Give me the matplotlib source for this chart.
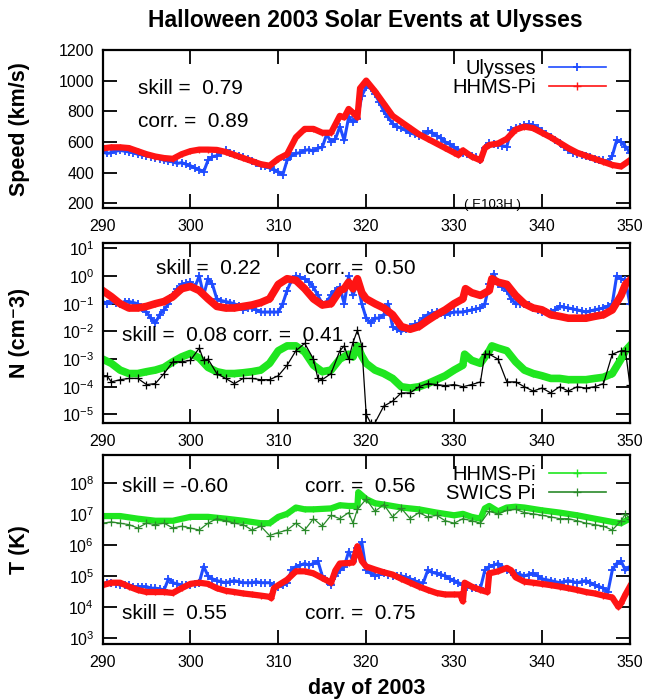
import numpy as np
import matplotlib
matplotlib.use("Agg")
import matplotlib.pyplot as plt

plt.rcParams['font.family'] = ['Liberation Sans', 'DejaVu Sans']

# --- Speed (km/s) ---
v_uly_day = [290, 290.5, 291, 291.5, 292, 292.5, 293, 293.5, 294, 294.5, 295, 295.5, 296, 296.5, 297,
             297.5, 298, 298.5, 299, 299.5, 300, 300.5, 301, 301.5, 302, 302.5, 303, 303.5, 304, 304.5,
             305, 305.5, 306, 306.5, 307, 307.5, 308, 308.5, 309, 309.5, 310, 310.5, 311, 311.5, 312,
             312.5, 313, 313.5, 314, 314.5, 315, 315.5, 316, 316.5, 317, 317.5, 318, 318.5, 319, 319.5,
             320, 320.5, 321, 321.5, 322, 322.5, 323, 323.5, 324, 324.5, 325, 325.5, 326, 326.5, 327,
             327.5, 328, 328.5, 329, 329.5, 330, 330.5, 331, 331.5, 332, 332.5, 333, 333.5, 334, 334.5,
             335, 335.5, 336, 336.5, 337, 337.5, 338, 338.5, 339, 339.5, 340, 340.5, 341, 341.5, 342,
             342.5, 343, 343.5, 344, 344.5, 345, 345.5, 346, 346.5, 347, 347.5, 348, 348.5, 349, 349.5,
             350]
v_uly = [535, 525, 530, 540, 545, 540, 535, 530, 520, 515, 510, 505, 495, 490, 480,
         475, 470, 460, 465, 455, 445, 430, 420, 405, 480, 505, 510, 530, 545, 530,
         520, 510, 500, 490, 475, 460, 445, 440, 430, 420, 405, 385, 480, 510, 525,
         530, 545, 550, 540, 560, 565, 650, 600, 620, 700, 610, 760, 730, 750, 900,
         960, 950, 910, 860, 800, 760, 720, 700, 690, 675, 660, 650, 640, 650, 670,
         660, 640, 625, 600, 585, 565, 550, 530, 520, 510, 500, 480, 560, 590, 585,
         580, 575, 570, 680, 690, 700, 710, 715, 710, 690, 670, 650, 630, 610, 590,
         570, 545, 530, 520, 515, 510, 500, 490, 485, 480, 470, 510, 610, 600, 570,
         530]
v_hhms_day = [290, 291, 292, 293, 294, 295, 296, 297, 298, 299, 300, 301, 302, 303, 304, 305, 306, 307,
              308, 309, 310, 311, 312, 313, 314, 315, 316, 317, 317.5, 318, 318.5, 319, 319.3, 320, 321,
              322, 323, 324, 325, 326, 327, 328, 329, 330, 330.5, 331, 332, 333, 333.5, 334, 335, 336,
              337, 338, 339, 340, 341, 342, 343, 344, 345, 346, 347, 348, 349, 350]
v_hhms = [558, 565, 565, 560, 540, 520, 505, 495, 490, 520, 540, 550, 550, 548, 535, 515, 495, 475,
          455, 445, 490, 520, 630, 685, 685, 660, 660, 770, 760, 815, 790, 760, 950, 1000, 930,
          850, 770, 730, 690, 650, 620, 590, 560, 530, 515, 545, 505, 480, 560, 580, 590, 620,
          680, 700, 690, 660, 630, 595, 560, 530, 510, 490, 470, 450, 440, 480]

# --- Density (cm^-3) ---
n_uly_day = [290, 290.5, 291, 291.5, 292, 292.5, 293, 293.5, 294, 294.5, 295, 295.5, 296, 296.5, 297,
             297.5, 298, 298.5, 299, 299.5, 300, 300.5, 301, 301.5, 302, 302.5, 303, 303.5, 304, 304.5,
             305, 305.5, 306, 306.5, 307, 307.5, 308, 308.5, 309, 309.5, 310, 310.5, 311, 311.5, 312,
             312.5, 313, 313.5, 314, 314.5, 315, 315.5, 316, 316.5, 317, 317.5, 318, 318.5, 319, 319.5,
             320, 320.5, 321, 321.5, 322, 322.5, 323, 323.5, 324, 324.5, 325, 325.5, 326, 326.5, 327,
             327.5, 328, 328.5, 329, 329.5, 330, 330.5, 331, 331.5, 332, 332.5, 333, 333.5, 334, 334.5,
             335, 335.5, 336, 336.5, 337, 337.5, 338, 338.5, 339, 339.5, 340, 340.5, 341, 341.5, 342,
             342.5, 343, 343.5, 344, 344.5, 345, 345.5, 346, 346.5, 347, 347.5, 348, 348.5, 349, 349.5,
             350]
n_uly = [0.12, 0.1, 0.13, 0.11, 0.1, 0.12, 0.12, 0.11, 0.1, 0.07, 0.05, 0.03, 0.02, 0.04, 0.06,
         0.1, 0.2, 0.35, 0.5, 0.55, 0.6, 0.4, 1.0, 0.2, 0.8, 0.5, 0.15, 0.13, 0.12, 0.11,
         0.1, 0.08, 0.06, 0.07, 0.07, 0.06, 0.05, 0.05, 0.05, 0.05, 0.05, 0.1, 0.3, 0.7, 1.0,
         0.9, 0.8, 0.6, 0.4, 0.2, 0.1, 0.12, 0.2, 0.3, 0.4, 0.1, 1.0, 0.2, 0.6, 0.1,
         0.03, 0.02, 0.03, 0.03, 0.04, 0.1, 0.015, 0.012, 0.01, 0.012, 0.015, 0.018, 0.02, 0.03, 0.04,
         0.045, 0.05, 0.045, 0.04, 0.045, 0.05, 0.05, 0.05, 0.055, 0.06, 0.065, 0.07, 0.1, 0.5, 1.2,
         0.5, 0.4, 0.3, 0.15, 0.1, 0.1, 0.1, 0.09, 0.07, 0.06, 0.05, 0.05, 0.05, 0.06, 0.08,
         0.075, 0.07, 0.065, 0.06, 0.055, 0.05, 0.055, 0.06, 0.065, 0.07, 0.08, 0.1, 1.0, 0.8, 0.7,
         0.1]
n_hhms_day = [290, 291, 292, 293, 294, 295, 296, 297, 298, 299, 300, 301, 302, 303, 304, 305, 306, 307,
              308, 309, 310, 311, 312, 313, 314, 315, 316, 317, 317.5, 318, 318.5, 319, 319.5, 320, 321,
              322, 323, 324, 325, 326, 327, 328, 329, 330, 331, 331.3, 332, 333, 334, 334.3, 335, 336,
              337, 338, 339, 340, 341, 342, 343, 344, 345, 346, 347, 348, 349, 349.5, 350]
n_hhms = [0.3, 0.18, 0.1, 0.07, 0.07, 0.08, 0.1, 0.12, 0.18, 0.35, 0.42, 0.3, 0.15, 0.08, 0.07, 0.07,
          0.08, 0.09, 0.11, 0.15, 0.5, 0.8, 0.7, 0.35, 0.15, 0.09, 0.1, 0.3, 0.35, 0.6, 0.35, 0.8, 0.25,
          0.15, 0.1, 0.07, 0.04, 0.015, 0.012, 0.015, 0.025, 0.04, 0.06, 0.1, 0.15, 0.35, 0.25, 0.2, 0.3,
          0.8, 0.6, 0.5, 0.2, 0.1, 0.07, 0.06, 0.04, 0.035, 0.03, 0.03, 0.03, 0.035, 0.04, 0.06, 0.2,
          0.5, 0.7]
na_hhms_day = [290, 291, 292, 293, 294, 295, 296, 297, 298, 299, 300, 301, 302, 303, 304, 305, 306, 307,
               308, 309, 310, 311, 312, 313, 314, 315, 316, 317, 318, 318.5, 319, 319.5, 320, 321, 322,
               323, 324, 325, 326, 327, 328, 329, 330, 331, 331.2, 332, 333, 334, 334.3, 335, 336, 337,
               338, 339, 340, 341, 342, 343, 344, 345, 346, 347, 348, 349, 349.5, 350]
na_hhms = [1e-3, 7e-4, 4e-4, 3e-4, 3e-4, 3.5e-4, 4e-4, 5e-4, 8e-4, 1.2e-3, 1.6e-3, 1.1e-3, 5e-4, 3.5e-4,
           3e-4, 3e-4, 3.2e-4, 3.5e-4, 4e-4, 7e-4, 2e-3, 3e-3, 3e-3, 1.8e-3, 6e-4, 3.5e-4, 4e-4,
           1e-3, 1.5e-3, 1.2e-3, 3e-3, 1.3e-3, 7e-4, 4e-4, 3e-4, 2e-4, 1e-4, 9e-5, 1e-4, 1.3e-4,
           1.8e-4, 2.5e-4, 4e-4, 6e-4, 1.5e-3, 9e-4, 7e-4, 2e-3, 3e-3, 2.5e-3, 2e-3, 8e-4, 4e-4,
           3e-4, 2.5e-4, 2e-4, 2e-4, 1.8e-4, 1.8e-4, 1.8e-4, 2e-4, 2.2e-4, 3e-4, 1e-3, 2e-3, 3e-3]
na_uly_day = [290, 290.5, 291, 292, 293, 294, 295, 296, 297, 298, 299, 300, 301, 301.5, 302, 303, 304,
              305, 306, 307, 308, 309, 310, 311, 312, 313, 314, 314.5, 315, 316, 317, 317.5, 318, 318.5,
              319, 319.5, 320, 320.5, 321, 322, 323, 324, 325, 326, 327, 328, 329, 330, 331, 332, 333,
              333.5, 334, 335, 336, 337, 338, 339, 340, 341, 342, 343, 344, 345, 346, 347, 348, 349,
              349.5, 350]
na_uly = [2.5e-4, 2.5e-4, 1.5e-4, 1.8e-4, 2e-4, 2e-4, 1.2e-4, 1.3e-4, 3e-4, 8e-4, 8e-4, 9e-4, 2.5e-3,
          9e-4, 1e-3, 3e-4, 2e-4, 1.3e-4, 2e-4, 2e-4, 1.8e-4, 1.8e-4, 2.5e-4, 6e-4, 2e-3, 3.7e-3, 1e-3,
          2e-4, 1.8e-4, 3e-4, 2e-3, 3e-3, 1e-3, 4e-3, 1.1e-2, 3e-3, 1e-5, 5e-6, 5e-6, 2e-5, 3e-5,
          6e-5, 6e-5, 1e-4, 1.3e-4, 1.2e-4, 1.1e-4, 1.2e-4, 1e-4, 1.2e-4, 1.5e-4, 1.5e-3, 1.5e-3,
          1e-3, 1.5e-4, 1.5e-4, 1e-4, 7e-5, 9e-5, 6e-5, 1e-4, 7e-5, 1e-4, 9e-5, 1e-4, 1.3e-4, 1.5e-3,
          2e-3, 2e-3, 1.2e-4]

# --- Temperature (K) ---
tp_hhms_day = [290, 292, 294, 296, 298, 300, 302, 304, 306, 308, 309, 310, 311, 312, 313, 314, 316, 317,
               318, 319, 319.1, 320, 321, 322, 324, 326, 328, 330, 331, 332, 333, 333.5, 334, 335, 336,
               337, 338, 340, 342, 344, 346, 348, 349, 350]
tp_hhms = [8.5e6, 8.5e6, 7e6, 6e6, 6e6, 8e6, 8e6, 7e6, 6e6, 5e6, 5e6, 8e6, 1e7, 1.6e7, 1.4e7, 1.4e7, 1.5e7,
           1.9e7, 1.8e7, 1.8e7, 5e7, 3e7, 2.2e7, 2e7, 1.6e7, 1.4e7, 1.1e7, 9e6, 1e7, 8e6, 7e6, 1.5e7,
           1.8e7, 1.2e7, 1.6e7, 1.7e7, 1.6e7, 1.3e7, 1.1e7, 9e6, 7e6, 5.5e6, 5e6, 7e6]
tp_swics_day = [290, 291, 292, 293, 294, 295, 296, 297, 298, 299, 300, 301, 302, 303, 304, 305, 306, 307,
                308, 309, 310, 311, 312, 313, 314, 315, 316, 317, 318, 318.5, 319, 320, 321, 322, 323,
                324, 325, 326, 327, 328, 329, 330, 331, 332, 333, 334, 335, 336, 337, 338, 339, 340,
                341, 342, 343, 344, 345, 346, 347, 348, 349, 349.5, 350]
tp_swics = [5e6, 5.5e6, 5e6, 4.5e6, 3.5e6, 5e6, 4.5e6, 5e6, 3.5e6, 4e6, 3.5e6, 3e6, 5e6, 7e6, 6e6, 5e6,
            4.5e6, 3e6, 4e6, 2e6, 2.5e6, 3e6, 5e6, 3e6, 7e6, 4e6, 9e6, 7e6, 1.1e7, 5e6, 1.4e7, 3e7,
            1.2e7, 2e7, 8e6, 1.5e7, 7e6, 1.1e7, 8e6, 9e6, 6e6, 5e6, 7e6, 6e6, 5e6, 1.2e7, 1e7, 1.3e7,
            1.4e7, 1.1e7, 1e7, 9e6, 8e6, 7e6, 7e6, 6e6, 5e6, 4.5e6, 4e6, 3e6, 6e6, 1e7, 7e6]
tuly_day = [290, 290.5, 291, 291.5, 292, 292.5, 293, 293.5, 294, 294.5, 295, 295.5, 296, 296.5, 297,
            297.5, 298, 298.5, 299, 299.5, 300, 300.5, 301, 301.5, 302, 302.5, 303, 303.5, 304, 304.5,
            305, 305.5, 306, 306.5, 307, 307.5, 308, 308.5, 309, 309.5, 310, 310.5, 311, 311.5, 312,
            312.5, 313, 313.5, 314, 314.5, 315, 315.5, 316, 316.5, 317, 317.5, 318, 318.5, 319, 319.5,
            320, 320.5, 321, 321.5, 322, 322.5, 323, 323.5, 324, 324.5, 325, 325.5, 326, 326.5, 327,
            327.5, 328, 328.5, 329, 329.5, 330, 330.5, 331, 331.5, 332, 332.5, 333, 333.5, 334, 334.5,
            335, 335.5, 336, 336.5, 337, 337.5, 338, 338.5, 339, 339.5, 340, 340.5, 341, 341.5, 342,
            342.5, 343, 343.5, 344, 344.5, 345, 345.5, 346, 346.5, 347, 347.5, 348, 348.5, 349, 349.5,
            350]
tuly = [5.5e4, 6e4, 6e4, 5.5e4, 5e4, 5e4, 5e4, 4.5e4, 4.5e4, 4.5e4, 4.5e4, 4e4, 4e4, 3.8e4, 3.5e4,
        8e4, 6e4, 5.5e4, 5e4, 5e4, 5e4, 5.5e4, 6e4, 2e5, 1e5, 8e4, 7e4, 6.5e4, 6e4, 6.5e4,
        7e4, 6.5e4, 6e4, 6e4, 6e4, 6.5e4, 6e4, 6e4, 6e4, 5e4, 4.5e4, 5e4, 6e4, 1.5e5, 2e5,
        2.2e5, 2.5e5, 2.2e5, 2.5e5, 3e5, 1e5, 7e4, 5e4, 1e5, 1.5e5, 2e5, 6e5, 3e5, 8e5, 1.2e6,
        1.5e5, 1.2e5, 1e5, 1.1e5, 1.2e5, 1.1e5, 1e5, 1e5, 1e5, 9e4, 8e4, 7e4, 6e4, 6e4, 1.5e5,
        1.3e5, 1.2e5, 1.1e5, 1e5, 8e4, 7e4, 6e4, 5e4, 4.5e4, 4e4, 4e4, 4e4, 1.5e5, 2e5, 2.2e5,
        2.5e5, 2e5, 1.5e5, 1.3e5, 1.2e5, 1.1e5, 1e5, 1.1e5, 1.2e5, 1e5, 8e4, 7.5e4, 7e4, 6.5e4, 6e4,
        6.5e4, 7e4, 6.5e4, 6e4, 6.5e4, 7e4, 6e4, 5e4, 4.5e4, 4e4, 3e4, 1.5e5, 2.5e5, 3e5, 1.5e5,
        2e5]
thhms_day = [290, 291, 292, 293, 294, 295, 296, 297, 298, 299, 300, 301, 302, 303, 304, 305, 306, 307,
             308, 309, 309.2, 309.5, 310, 311, 312, 313, 314, 315, 316, 316.5, 317, 318, 318.5, 319,
             319.5, 320, 321, 322, 323, 324, 325, 326, 327, 328, 329, 330, 330.7, 331, 331.2, 332, 333,
             333.8, 334, 335, 336, 336.5, 337, 338, 339, 340, 341, 342, 343, 344, 345, 346, 347, 348,
             348.7, 349, 349.5, 350]
thhms = [5e4, 6e4, 6e4, 4.5e4, 3.5e4, 3e4, 3e4, 3e4, 2.8e4, 4e4, 5.5e4, 6e4, 5.5e4, 4e4, 3.3e4, 3e4,
         2.7e4, 2.5e4, 2.3e4, 2.1e4, 1.9e4, 4e4, 5e4, 7.5e4, 1.4e5, 1.4e5, 1.2e5, 8.5e4, 6e4, 1.5e5, 2.5e5,
         2.6e5, 2.7e5, 9e5, 3e5, 2e5, 1.6e5, 1.3e5, 1.1e5, 8e4, 6e4, 4.5e4, 3.5e4, 2.8e4, 2.5e4, 2.5e4,
         2.5e4, 1.5e4, 6e4, 4.5e4, 3.5e4, 3e4, 1.2e5, 1.4e5, 1.8e5, 1.5e5, 9e4, 6.5e4, 6e4, 5.5e4, 5e4,
         4.5e4, 4e4, 3.5e4, 3e4, 2.7e4, 2.3e4, 2e4, 1e4, 1.3e4, 2.5e4, 4.5e4]

day_ticks = [290, 300, 310, 320, 330, 340, 350]

BLUE = '#1f4cff'
RED = '#ff1414'
LGREEN = '#1fe61f'
DGREEN = '#2a8a2a'
TXT = 15

fig = plt.figure(figsize=(6.45, 7.0), dpi=100)
ax1 = fig.add_axes([0.159, 0.703, 0.8175, 0.2257])
ax2 = fig.add_axes([0.159, 0.3957, 0.8175, 0.257])
ax3 = fig.add_axes([0.159, 0.080, 0.8175, 0.270])


def style(ax):
    ax.set_xlim(290, 350)
    ax.set_xticks(day_ticks)
    ax.tick_params(direction='in', length=10, width=1.3, top=True, right=True,
                   labelsize=11.5, pad=6, which='major')
    ax.tick_params(axis='x', pad=8)
    ax.tick_params(which='minor', length=0)
    for s in ax.spines.values():
        s.set_linewidth(1.6)
    ax.yaxis.set_label_coords(-0.138, 0.5)


def put_legend(ax):
    leg = ax.legend(loc='upper right', bbox_to_anchor=(0.955, 0.945), frameon=False,
                    markerfirst=False, fontsize=14.5, handlelength=2.85, borderaxespad=0,
                    borderpad=0, labelspacing=0.0, handletextpad=0.65)
    for h in leg.legend_handles:
        h.set_linewidth(1.2)
        h.set_markersize(6)


# panel 1 : speed
ax1.plot(v_uly_day, v_uly, '-', color=BLUE, lw=2.2, marker='+', ms=6, mew=1.3, label='Ulysses')
ax1.plot(v_hhms_day, v_hhms, '-', color=RED, lw=4.5, marker='+', ms=4, label='HHMS-Pi')
ax1.set_ylim(170, 1200)
ax1.set_yticks([200, 400, 600, 800, 1000, 1200])
style(ax1)
ax1.set_ylabel('Speed (km/s)', fontsize=15.5, fontweight='bold')
put_legend(ax1)
ax1.text(0.067, 0.753, 'skill =  0.79', transform=ax1.transAxes, fontsize=TXT, va='center')
ax1.text(0.067, 0.544, 'corr. =  0.89', transform=ax1.transAxes, fontsize=TXT, va='center')
ax1.text(0.74, 0.02, '( E103H )', transform=ax1.transAxes, fontsize=9.5, va='center', ha='center')
fig.text(0.567, 0.971, 'Halloween 2003 Solar Events at Ulysses', fontsize=16.5,
         fontweight='bold', ha='center', va='center')

# panel 2 : density
ax2.set_yscale('log')
ax2.plot(n_uly_day, n_uly, '-', color=BLUE, lw=2.2, marker='+', ms=6, mew=1.3)
ax2.plot(n_hhms_day, n_hhms, '-', color=RED, lw=5.5, marker='+', ms=4)
ax2.plot(na_hhms_day, na_hhms, '-', color=LGREEN, lw=5.5, marker='+', ms=4)
ax2.plot(na_uly_day, na_uly, '-', color='black', lw=0.9, marker='+', ms=6, mew=0.9)
ax2.set_ylim(10**-5.31, 10**1.19)
ax2.set_yticks([1e-5, 1e-4, 1e-3, 1e-2, 1e-1, 1e0, 1e1])
style(ax2)
ax2.set_ylabel('N (cm⁻3)', fontsize=15.5, fontweight='bold')
ax2.text(0.102, 0.859, 'skill =  0.22', transform=ax2.transAxes, fontsize=TXT, va='center')
ax2.text(0.384, 0.859, 'corr. =  0.50', transform=ax2.transAxes, fontsize=TXT, va='center')
ax2.text(0.036, 0.485, 'skill =  0.08 corr. =  0.41', transform=ax2.transAxes, fontsize=TXT, va='center')

# panel 3 : temperature
ax3.set_yscale('log')
ax3.plot(tuly_day, tuly, '-', color=BLUE, lw=2.2, marker='+', ms=6, mew=1.3)
ax3.plot(thhms_day, thhms, '-', color=RED, lw=4.5, marker='+', ms=4)
ax3.plot(tp_hhms_day, tp_hhms, '-', color=LGREEN, lw=4.5, marker='+', ms=4, label='HHMS-Pi')
ax3.plot(tp_swics_day, tp_swics, '-', color=DGREEN, lw=0.9, marker='+', ms=6, mew=0.9, label='SWICS Pi')
ax3.set_ylim(10**2.8, 10**8.9)
ax3.set_yticks([1e3, 1e4, 1e5, 1e6, 1e7, 1e8])
style(ax3)
ax3.set_ylabel('T (K)', fontsize=15.5, fontweight='bold')
ax3.set_xlabel('day of 2003', fontsize=15.5, fontweight='bold', labelpad=6)
put_legend(ax3)
ax3.text(0.036, 0.832, 'skill = -0.60', transform=ax3.transAxes, fontsize=TXT, va='center')
ax3.text(0.384, 0.832, 'corr. =  0.56', transform=ax3.transAxes, fontsize=TXT, va='center')
ax3.text(0.036, 0.162, 'skill =  0.55', transform=ax3.transAxes, fontsize=TXT, va='center')
ax3.text(0.384, 0.162, 'corr. =  0.75', transform=ax3.transAxes, fontsize=TXT, va='center')

fig.savefig('out.png', dpi=100)
